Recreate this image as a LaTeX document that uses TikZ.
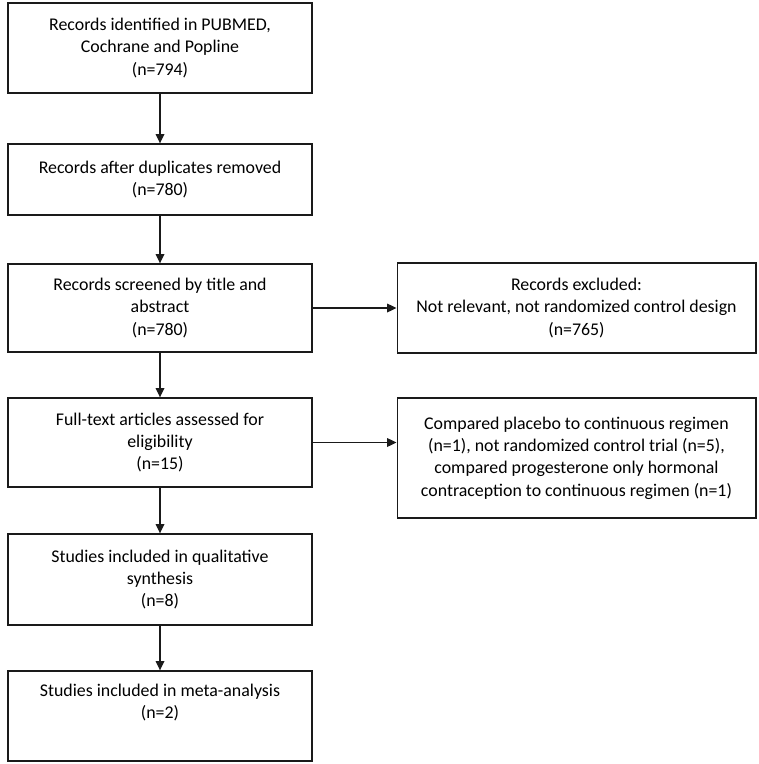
\documentclass[tikz,border=0pt]{standalone}
\usepackage{fontspec}
\setmainfont{Carlito}
\usetikzlibrary{arrows.meta,positioning}
\definecolor{FlowLine}{HTML}{1A1A1A}

\begin{document}
\begin{tikzpicture}[x=0.75pt, y=-0.75pt,
  box/.style={draw=FlowLine, line width=1pt, align=center, inner sep=2pt,
    minimum width=228pt, minimum height=67.5pt, font=\fontsize{13.4}{16.8}\selectfont},
  sidebox/.style={box, minimum width=269pt},
  flow/.style={-{Triangle[length=7pt, width=6.5pt]}, line width=0.9pt, FlowLine}]
% Page frame
\useasboundingbox (0,0) rectangle (758,764);

% Main column of boxes
\node[box] (ident) at (160,48) {Records identified in PUBMED,\\Cochrane and Popline\\(n=794)};
\node[box, minimum height=53.25pt] (dedup) at (160,179.5) {Records after duplicates removed\\(n=780)};
\node[box, minimum height=66pt] (screen) at (160,308) {Records screened by title and\\abstract\\(n=780)};
\node[box, minimum height=66.75pt] (fulltext) at (160,442.5) {Full-text articles assessed for\\eligibility\\(n=15)};
\node[box, minimum height=68.25pt] (qual) at (160,579.5) {Studies included in qualitative\\synthesis\\(n=8)};
\node[box] (meta) at (160,716) {Studies included in meta-analysis\\(n=2)\\\strut};

% Exclusion boxes on the right
\node[sidebox] (excl) at (576.5,308) {Records excluded:\\Not relevant, not randomized control design\\(n=765)};
\node[sidebox, minimum height=90pt] (reasons) at (576.5,458) {Compared placebo to continuous regimen\\(n=1), not randomized control trial (n=5),\\compared progesterone only hormonal\\contraception to continuous regimen (n=1)};

% Arrows down the main column
\draw[flow] (ident) -- (dedup);
\draw[flow] (dedup) -- (screen);
\draw[flow] (screen) -- (fulltext);
\draw[flow] (fulltext) -- (qual);
\draw[flow] (qual) -- (meta);

% Arrows to the exclusions
\draw[flow] (screen) -- (excl);
\draw[flow] (fulltext.east) -- (fulltext.east -| reasons.west);
\end{tikzpicture}
\end{document}
